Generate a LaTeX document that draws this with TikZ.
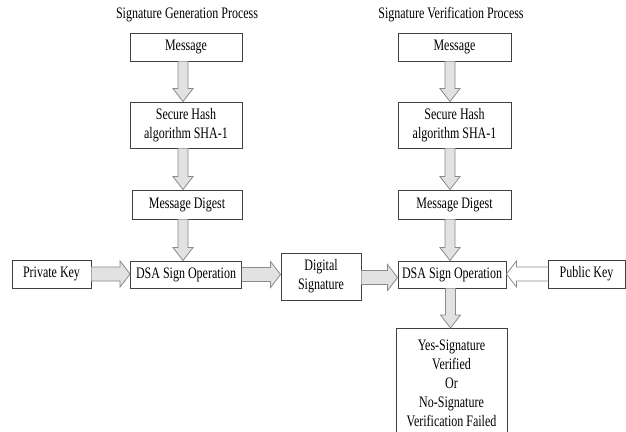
\documentclass[tikz,border=0pt]{standalone}
\usepackage{fontspec}
\setmainfont{Liberation Serif}[FakeStretch=0.75]
\usetikzlibrary{calc}
\definecolor{boxline}{HTML}{404040}
\definecolor{arrline}{HTML}{8A8A8A}
\definecolor{arrfill}{HTML}{E2E2E2}
\tikzset{
  blockbox/.style={draw=boxline, line width=0.9pt, rectangle, align=center, inner sep=0pt,
    font=\fontsize{16}{19}\selectfont},
  titletext/.style={font=\fontsize{16}{19}\selectfont},
  blk/.style={draw=arrline, fill=arrfill, line width=0.8pt, line join=miter},
  blkhollow/.style={draw=arrline, fill=white, line width=0.8pt, line join=miter}
}
\newcommand\blkdown[2]{%
  \draw[blk] let \p1=(#1), \p2=(#2) in
    (\x1-5pt,\y1) -- (\x1-5pt,\y2+13pt) -- (\x1-10pt,\y2+13pt) -- (\x1,\y2)
    -- (\x1+10pt,\y2+13pt) -- (\x1+5pt,\y2+13pt) -- (\x1+5pt,\y1);}
\newcommand\blkright[3][blk]{%
  \draw[#1] let \p1=(#2), \p2=(#3) in
    (\x1,\y1+7pt) -- (\x2-10pt,\y1+7pt) -- (\x2-10pt,\y1+13pt) -- (\x2,\y1)
    -- (\x2-10pt,\y1-13pt) -- (\x2-10pt,\y1-7pt) -- (\x1,\y1-7pt);}
\newcommand\blkleft[3][blk]{%
  \draw[#1] let \p1=(#2), \p2=(#3) in
    (\x1,\y1+7pt) -- (\x2+10pt,\y1+7pt) -- (\x2+10pt,\y1+13pt) -- (\x2,\y1)
    -- (\x2+10pt,\y1-13pt) -- (\x2+10pt,\y1-7pt) -- (\x1,\y1-7pt);}
\begin{document}
\begin{tikzpicture}[x=1pt,y=-1pt]
\clip (0,0) rectangle (626,431);
\fill[white] (0,0) rectangle (626,431);

% titles
\node[titletext] (tgen) at (187,15) {Signature Generation Process};
\node[titletext] (tver) at (451,15) {Signature Verification Process};

% left column
\node[blockbox, minimum width=112pt, minimum height=28pt] (lmsg) at (186,47) {Message};
\node[blockbox, minimum width=112pt, minimum height=46pt] (lhash) at (186,125) {Secure Hash\\algorithm SHA-1};
\node[blockbox, minimum width=110pt, minimum height=29pt] (ldig) at (187,204.5) {Message Digest};
\node[blockbox, minimum width=111pt, minimum height=27pt] (ldsa) at (186,274.5) {DSA Sign Operation};
\node[blockbox, minimum width=79pt, minimum height=28pt] (prk) at (51.5,274) {Private Key};
\node[blockbox, minimum width=80pt, minimum height=47pt] (dsig) at (321,276.5) {Digital\\Signature};

% right column
\node[blockbox, minimum width=113pt, minimum height=28pt] (rmsg) at (454.5,47) {Message};
\node[blockbox, minimum width=113pt, minimum height=46pt] (rhash) at (454.5,125) {Secure Hash\\algorithm SHA-1};
\node[blockbox, minimum width=113pt, minimum height=29pt] (rdig) at (454.5,204.5) {Message Digest};
\node[blockbox, minimum width=108pt, minimum height=27pt] (rdsa) at (452,274.5) {DSA Sign Operation};
\node[blockbox, minimum width=77pt, minimum height=28pt] (pbk) at (586.5,274) {Public Key};
\node[blockbox, minimum width=111pt, minimum height=108pt, anchor=north] (res) at (451.5,328)
  {};
\node[font=\fontsize{16}{19.2}\selectfont, align=center, anchor=north] (restext) at (451.5,336)
  {Yes-Signature\\Verified\\Or\\No-Signature\\Verification Failed};

% vertical arrows
\blkdown{[xshift=-3pt]lmsg.south}{[xshift=-3pt]lhash.north}
\blkdown{[xshift=-3pt]lhash.south}{[xshift=-4pt]ldig.north}
\blkdown{[xshift=-4pt]ldig.south}{[xshift=-3pt]ldsa.north}
\blkdown{[xshift=-4.5pt]rmsg.south}{[xshift=-4.5pt]rhash.north}
\blkdown{[xshift=-4.5pt]rhash.south}{[xshift=-4.5pt]rdig.north}
\blkdown{[xshift=-4.5pt]rdig.south}{[xshift=-2pt]rdsa.north}
\blkdown{[xshift=-1.5pt]rdsa.south}{[xshift=0pt]res.north}

% horizontal arrows
\blkright{prk.east}{ldsa.west}
\blkright{ldsa.east}{dsig.west}
\blkright{[yshift=-1pt]dsig.east}{rdsa.west}
\blkleft[blkhollow]{pbk.west}{rdsa.east}
\end{tikzpicture}
\end{document}
